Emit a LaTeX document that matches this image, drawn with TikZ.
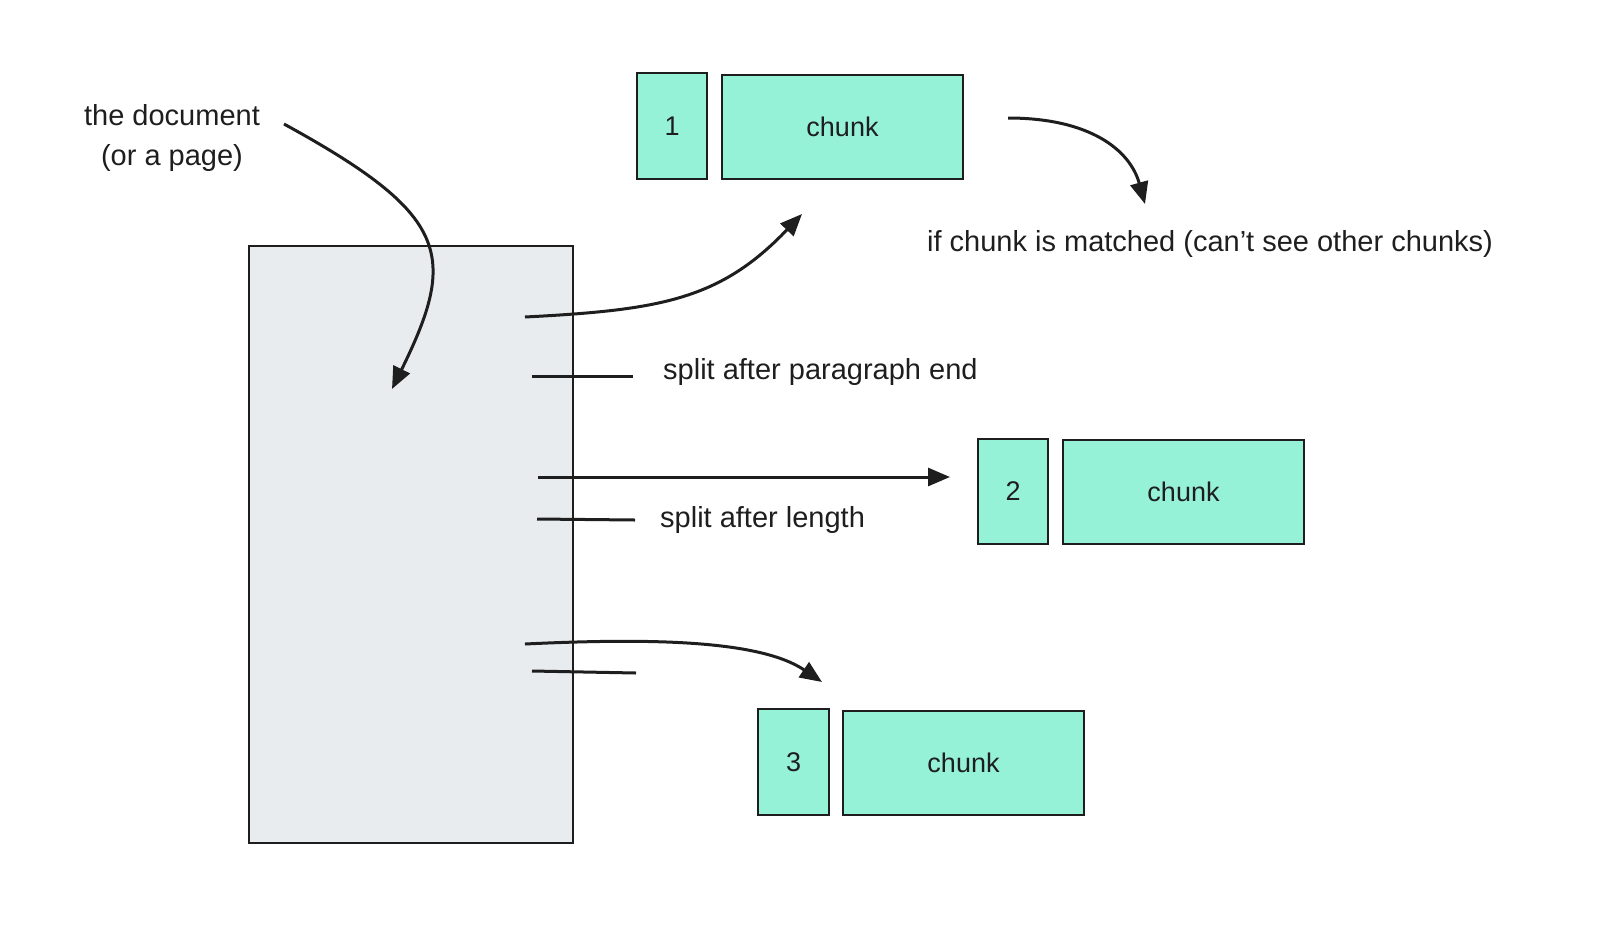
\documentclass[tikz,border=0pt]{standalone}
\usepackage{fontspec}
\setmainfont{Liberation Sans}
\usetikzlibrary{arrows.meta}
\definecolor{ink}{HTML}{1E1E1E}
\definecolor{teal}{HTML}{96F2D7}
\definecolor{docfill}{HTML}{E9ECEF}
\tikzset{
  box/.style={draw=ink, line width=2.8pt, fill=teal, inner sep=0pt, font=\fontsize{27}{30}\selectfont, text=ink},
  docbox/.style={draw=ink, line width=2.6pt, fill=docfill, inner sep=0pt},
  lbl/.style={inner sep=0pt, font=\fontsize{29}{40}\selectfont, text=ink},
  conn/.style={draw=ink, line width=3pt, -{Triangle[length=22pt,width=18pt]}},
  tick/.style={draw=ink, line width=3pt}
}
\begin{document}
\begin{tikzpicture}[x=1pt,y=-1pt]
\useasboundingbox (0,0) rectangle (1600,930);
% document
\node[docbox, minimum width=324pt, minimum height=597pt] (doc) at (411,544.5) {};
% chunks
\node[box, minimum width=70pt, minimum height=106pt] (n1) at (672,126) {1};
\node[box, minimum width=241pt, minimum height=104pt] (c1) at (842.5,127) {chunk};
\node[box, minimum width=70pt, minimum height=105pt] (n2) at (1013,491.5) {2};
\node[box, minimum width=241pt, minimum height=104pt] (c2) at (1183.5,492) {chunk};
\node[box, minimum width=71pt, minimum height=106pt] (n3) at (793.5,762) {3};
\node[box, minimum width=241pt, minimum height=104pt] (c3) at (963.5,763) {chunk};
% labels
\node[lbl, align=center] (doclbl) at (172,138) {the document\\(or a page)};
\node[lbl] (matched) at (1210,244) {if chunk is matched (can't see other chunks)};
\node[lbl, anchor=west] (splitpar) at (663,372) {split after paragraph end};
\node[lbl, anchor=west] (splitlen) at (660,520) {split after length};
% connector ends
\coordinate (a1s) at (284,124);
\coordinate (a1e) at (392,389);
\coordinate (a2s) at (525,317);
\coordinate (a2e) at (802,214);
\coordinate (a3s) at (1008,118);
\coordinate (a3e) at (1145,204);
\coordinate (a5s) at (538,477);
\coordinate (a5e) at (950,477);
\coordinate (a7s) at (525,644);
\coordinate (a7e) at (822,682);
\coordinate (t1s) at (532,376);
\coordinate (t1e) at (633,376);
\coordinate (t2s) at (537,519);
\coordinate (t2e) at (635,520);
\coordinate (t3s) at (532,671);
\coordinate (t3e) at (636,673);
% connectors
\draw[conn] (a1s) .. controls (450,215) and (458,255) .. (a1e);
\draw[conn] (a2s) .. controls (660,310) and (720,300) .. (a2e);
\draw[conn] (a3s) .. controls (1090,118) and (1130,150) .. (a3e);
\draw[conn] (a5s) -- (a5e);
\draw[conn] (a7s) .. controls (650,638) and (760,640) .. (a7e);
\draw[tick] (t1s) -- (t1e);
\draw[tick] (t2s) -- (t2e);
\draw[tick] (t3s) -- (t3e);
\end{tikzpicture}
\end{document}
